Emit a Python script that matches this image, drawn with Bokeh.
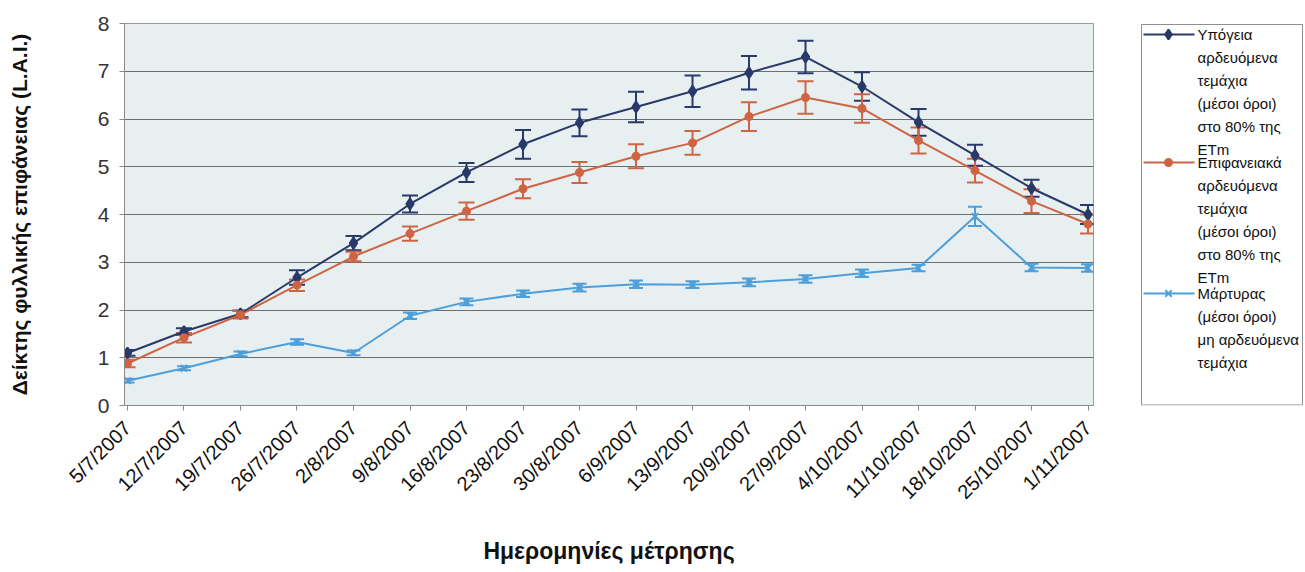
import math
from bokeh.plotting import figure
from bokeh.layouts import row
from bokeh.models import Range1d, FixedTicker, Whisker, TeeHead, ColumnDataSource
from bokeh.core.properties import value
from bokeh.embed import file_html
from bokeh.resources import INLINE

# Measurement dates
dates = ["5/7/2007", "12/7/2007", "19/7/2007", "26/7/2007", "2/8/2007", "9/8/2007",
         "16/8/2007", "23/8/2007", "30/8/2007", "6/9/2007", "13/9/2007", "20/9/2007",
         "27/9/2007", "4/10/2007", "11/10/2007", "18/10/2007", "25/10/2007", "1/11/2007"]

# Leaf area index, subsurface drip at 80% ETm (mean ± error)
subsurface = [1.10, 1.55, 1.92, 2.68, 3.40, 4.22, 4.88, 5.47, 5.92, 6.25, 6.58, 6.97,
              7.30, 6.68, 5.93, 5.24, 4.55, 4.00]
subsurface_err = [0.06, 0.07, 0.07, 0.15, 0.15, 0.18, 0.20, 0.30, 0.28, 0.32, 0.33, 0.35,
                  0.34, 0.30, 0.28, 0.22, 0.18, 0.20]

# Surface drip at 80% ETm
surface = [0.88, 1.42, 1.90, 2.52, 3.12, 3.60, 4.07, 4.54, 4.88, 5.22, 5.50, 6.05,
           6.45, 6.22, 5.55, 4.92, 4.28, 3.80]
surface_err = [0.08, 0.10, 0.08, 0.12, 0.10, 0.15, 0.18, 0.20, 0.22, 0.25, 0.25, 0.30,
               0.34, 0.30, 0.27, 0.25, 0.25, 0.20]

# Non-irrigated control
control = [0.52, 0.78, 1.08, 1.33, 1.10, 1.88, 2.17, 2.34, 2.47, 2.54, 2.53, 2.58,
           2.65, 2.77, 2.88, 3.96, 2.89, 2.88]
control_err = [0.04, 0.04, 0.05, 0.06, 0.05, 0.07, 0.07, 0.07, 0.08, 0.08, 0.07, 0.08,
               0.08, 0.08, 0.07, 0.20, 0.08, 0.08]

legend_labels = [
    ["Υπόγεια", "αρδευόμενα", "τεμάχια", "(μέσοι όροι)", "στο 80% της", "ETm"],
    ["Επιφανειακά", "αρδευόμενα", "τεμάχια", "(μέσοι όροι)", "στο 80% της", "ETm"],
    ["Μάρτυρας", "(μέσοι όροι)", "μη αρδευόμενα", "τεμάχια"],
]

y_ticks = [0, 1, 2, 3, 4, 5, 6, 7, 8]

NAVY = "#28396a"
RED = "#cf6444"
BLUE = "#4d9fdb"
FONT = "Liberation Sans"

x = list(range(len(dates)))

p = figure(width=1138, height=572, output_backend="svg", toolbar_location=None,
           x_range=Range1d(-0.053, 17.097), y_range=Range1d(0, 8),
           min_border_left=124, min_border_right=45, min_border_top=23,
           min_border_bottom=167)
p.background_fill_color = "#e8eff0"
p.border_fill_color = "white"
p.outline_line_color = "#9a9a9a"

series = [
    (subsurface, subsurface_err, NAVY, "diamond", 11, 16),
    (surface, surface_err, RED, "circle", 7, 16),
    (control, control_err, BLUE, "x", 9, 14),
]
for vals, errs, col, mk, msize, cap in series:
    src = ColumnDataSource(dict(
        x=x, y=vals,
        lo=[v - e for v, e in zip(vals, errs)],
        hi=[v + e for v, e in zip(vals, errs)]))
    p.line("x", "y", source=src, line_color=col, line_width=2)
    wk = Whisker(base="x", lower="lo", upper="hi", source=src,
                 line_color=col, line_width=2,
                 upper_head=TeeHead(size=cap, line_color=col, line_width=2),
                 lower_head=TeeHead(size=cap, line_color=col, line_width=2))
    p.add_layout(wk)
    p.scatter("x", "y", source=src, marker=mk, size=msize, line_color=col,
              fill_color=col, line_width=2)

# Axes
p.xaxis.ticker = FixedTicker(ticks=x)
p.xaxis.major_label_overrides = {i: d for i, d in enumerate(dates)}
p.xaxis.major_label_orientation = math.pi / 4
p.xaxis.major_label_text_font = FONT
p.xaxis.major_label_text_font_size = "20px"
p.xaxis.major_label_text_font_style = "normal"
p.xaxis.major_label_text_color = "#111111"
p.xaxis.major_label_standoff = 14
p.xaxis.axis_label = "Ημερομηνίες μέτρησης"
p.xaxis.axis_label_text_font = FONT
p.xaxis.axis_label_text_font_size = "23px"
p.xaxis.axis_label_text_font_style = "bold"
p.xaxis.axis_label_text_color = "#111111"
p.xaxis.axis_label_standoff = 24

p.yaxis.ticker = FixedTicker(ticks=y_ticks)
p.yaxis.major_label_text_font = FONT
p.yaxis.major_label_text_font_size = "21px"
p.yaxis.major_label_text_color = "#333333"
p.yaxis.major_label_standoff = 10
p.yaxis.axis_label = "Δείκτης φυλλικής επιφάνειας (L.A.I.)"
p.yaxis.axis_label_text_font = FONT
p.yaxis.axis_label_text_font_size = "21px"
p.yaxis.axis_label_text_font_style = "bold"
p.yaxis.axis_label_text_color = "#111111"
p.yaxis.axis_label_standoff = 64

for ax in (p.xaxis, p.yaxis):
    ax.axis_line_color = "#8a8a8a"
    ax.major_tick_line_color = "#8a8a8a"
    ax.major_tick_out = 5
    ax.major_tick_in = 0
    ax.minor_tick_line_color = None

p.xgrid.grid_line_color = None
p.ygrid.grid_line_color = "#6e6e6e"
p.ygrid.grid_line_width = 1

# Legend panel; its frame lines up with the chart frame (rows 23..405 px)
lg = figure(width=167, height=572, output_backend="svg", toolbar_location=None,
            x_range=Range1d(0, 167), y_range=Range1d(405, 23),
            min_border_left=0, min_border_right=0, min_border_top=23,
            min_border_bottom=167)
lg.axis.visible = False
lg.grid.grid_line_color = None
lg.outline_line_color = None
lg.background_fill_color = "white"
lg.border_fill_color = "white"
lg.quad(left=[3], right=[164], top=[24], bottom=[404.5], fill_color="white",
        line_color="#8f8f8f", line_width=1)

entry_tops = [34, 162, 293]
markers = [("diamond", 10, NAVY), ("circle", 7, RED), ("x", 9, BLUE)]
step = 22.9
for top, lines, (mk, ms, col) in zip(entry_tops, legend_labels, markers):
    lg.line([5, 56], [top, top], line_color=col, line_width=2)
    lg.scatter([30], [top], marker=mk, size=ms, line_color=col, fill_color=col,
               line_width=2)
    lg.text([59] * len(lines), [top + i * step for i in range(len(lines))], text=lines,
            text_font=value(FONT), text_font_size="15px", text_color="#111111",
            text_baseline="middle", text_align="left")

layout = row(p, lg)
open("out.html", "w").write(file_html(layout, INLINE))
